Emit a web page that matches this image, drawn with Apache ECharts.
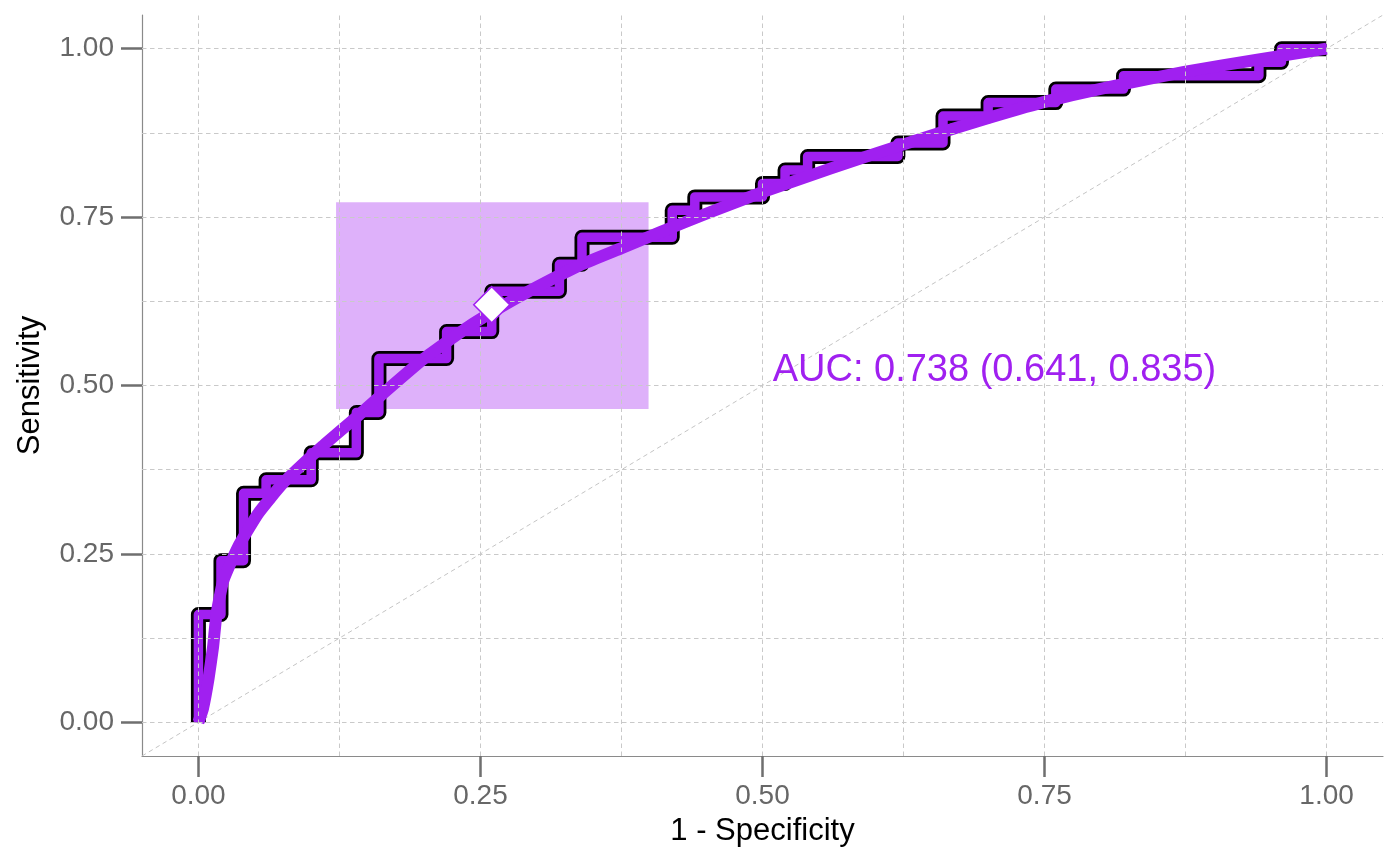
<!DOCTYPE html>
<html>
<head>
<meta charset="utf-8">
<script src="https://cdn.jsdelivr.net/npm/echarts@6/dist/echarts.min.js"></script>
<style>
html,body{margin:0;padding:0;background:#fff;}
#chart{width:1400px;height:866px;}
</style>
</head>
<body>
<div id="chart"></div>
<script>
// Empirical ROC curve corner points (1 - specificity, sensitivity)
const stepFpr = [0,0,0.02,0.02,0.04,0.04,0.06,0.06,0.10,0.10,0.14,0.14,0.16,0.16,0.22,0.22,0.26,0.26,0.32,0.32,0.34,0.34,0.42,0.42,0.44,0.44,0.50,0.50,0.52,0.52,0.54,0.54,0.62,0.62,0.66,0.66,0.70,0.70,0.76,0.76,0.82,0.82,0.94,0.94,0.96,0.96,1.00];
const stepTpr = [0,0.16,0.16,0.24,0.24,0.34,0.34,0.36,0.36,0.40,0.40,0.46,0.46,0.54,0.54,0.58,0.58,0.64,0.64,0.68,0.68,0.72,0.72,0.76,0.76,0.78,0.78,0.80,0.80,0.82,0.82,0.84,0.84,0.86,0.86,0.90,0.90,0.92,0.92,0.94,0.94,0.96,0.96,0.98,0.98,1.00,1.00];
// Smoothed ROC curve
const smoothFpr = [0,0.004,0.009,0.013,0.016,0.022,0.035,0.053,0.075,0.11,0.14,0.165,0.2,0.24,0.28,0.31,0.34,0.375,0.41,0.45,0.5,0.56,0.625,0.69,0.75,0.81,0.875,0.94,1];
const smoothTpr = [0,0.02,0.065,0.112,0.16,0.21,0.26,0.31,0.355,0.41,0.453,0.49,0.54,0.588,0.628,0.655,0.68,0.704,0.728,0.755,0.787,0.822,0.858,0.892,0.921,0.944,0.966,0.984,1];
// Best threshold and its confidence box
const bestPoint = [0.26, 0.62];
const ciFpr = [0.122, 0.399];
const ciTpr = [0.465, 0.772];
// Chance diagonal
const diagX = [-0.05, 1.05];
const diagY = [-0.05, 1.05];
// Ticks and grid
const tickValues = [0, 0.25, 0.5, 0.75, 1];
const gridValues = [0, 0.125, 0.25, 0.375, 0.5, 0.625, 0.75, 0.875, 1];
const aucText = 'AUC: 0.738 (0.641, 0.835)';
const aucPos = [0.509, 0.522];
const xTitle = '1 - Specificity';
const yTitle = 'Sensitivity';

const PURPLE = '#A020F0';
const FONT = 'Liberation Sans, Arial, Helvetica, sans-serif';
const zip = (a, b) => a.map((v, i) => [v, b[i]]);

const gridStyle = {color: '#c9c9c9', width: 1, type: [4.5, 3.5]};
const markLines = gridValues.map(v => ({xAxis: v, lineStyle: gridStyle}))
  .concat(gridValues.map(v => ({yAxis: v, lineStyle: gridStyle})));

const axisCommon = {
  type: 'value',
  min: -0.05,
  max: 1.05,
  splitLine: {show: false},
  axisLine: {show: true, onZero: false, lineStyle: {color: '#8a8a8a', width: 1.2}},
  axisTick: {show: true, length: 21, customValues: tickValues, lineStyle: {color: '#6f6f6f', width: 2.5}},
  axisLabel: {customValues: tickValues, color: '#676767', fontSize: 28, fontFamily: FONT,
    formatter: v => v.toFixed(2)},
  nameLocation: 'middle',
  nameTextStyle: {color: '#000', fontSize: 31, fontFamily: FONT}
};

const chart = echarts.init(document.getElementById('chart'), null, {renderer: 'canvas'});
chart.setOption({
  animation: false,
  backgroundColor: '#fff',
  grid: {left: 142, right: 17, top: 15, bottom: 110, containLabel: false},
  xAxis: Object.assign({}, axisCommon, {
    name: xTitle, nameGap: 60,
    axisLabel: Object.assign({}, axisCommon.axisLabel, {margin: 26})
  }),
  yAxis: Object.assign({}, axisCommon, {
    name: yTitle, nameGap: 96,
    axisLabel: Object.assign({}, axisCommon.axisLabel, {margin: 28})
  }),
  series: [
    {
      type: 'line', z: 1, silent: true,
      data: zip(diagX, diagY),
      showSymbol: false,
      lineStyle: {color: '#c4c4c4', width: 1, type: [4.5, 3.5]},
      markLine: {silent: true, precision: 6, symbol: ['none', 'none'], label: {show: false}, data: markLines}
    },
    {
      type: 'line', z: 2, silent: true,
      data: zip(stepFpr, stepTpr),
      showSymbol: false,
      lineStyle: {color: '#000', width: 15, cap: 'butt', join: 'round'}
    },
    {
      type: 'line', z: 3, silent: true,
      data: zip(stepFpr, stepTpr),
      showSymbol: false,
      lineStyle: {color: PURPLE, width: 9.5, cap: 'butt', join: 'round'}
    },
    {
      type: 'line', z: 4, silent: true,
      data: zip(smoothFpr, smoothTpr),
      showSymbol: false,
      smooth: 0.15,
      lineStyle: {color: PURPLE, width: 12, cap: 'butt', join: 'round'}
    },
    {
      type: 'line', z: 5, silent: true,
      data: [],
      markArea: {silent: true, itemStyle: {color: 'rgba(160,32,240,0.35)'},
        data: [[{xAxis: ciFpr[0], yAxis: ciTpr[0]}, {xAxis: ciFpr[1], yAxis: ciTpr[1]}]]}
    },
    {
      type: 'scatter', z: 6, silent: true,
      data: [bestPoint],
      symbol: 'diamond', symbolSize: 36,
      itemStyle: {color: '#fff', borderColor: PURPLE, borderWidth: 1.5, opacity: 1}
    },
    {
      type: 'scatter', z: 7, silent: true,
      data: [aucPos],
      symbolSize: 0,
      itemStyle: {color: PURPLE},
      label: {show: true, position: 'inside', align: 'left', verticalAlign: 'middle',
        formatter: aucText, color: PURPLE, fontSize: 38, fontFamily: FONT,
        textBorderWidth: 0, textBorderColor: 'transparent', opacity: 1}
    }
  ]
});
</script>
</body>
</html>
